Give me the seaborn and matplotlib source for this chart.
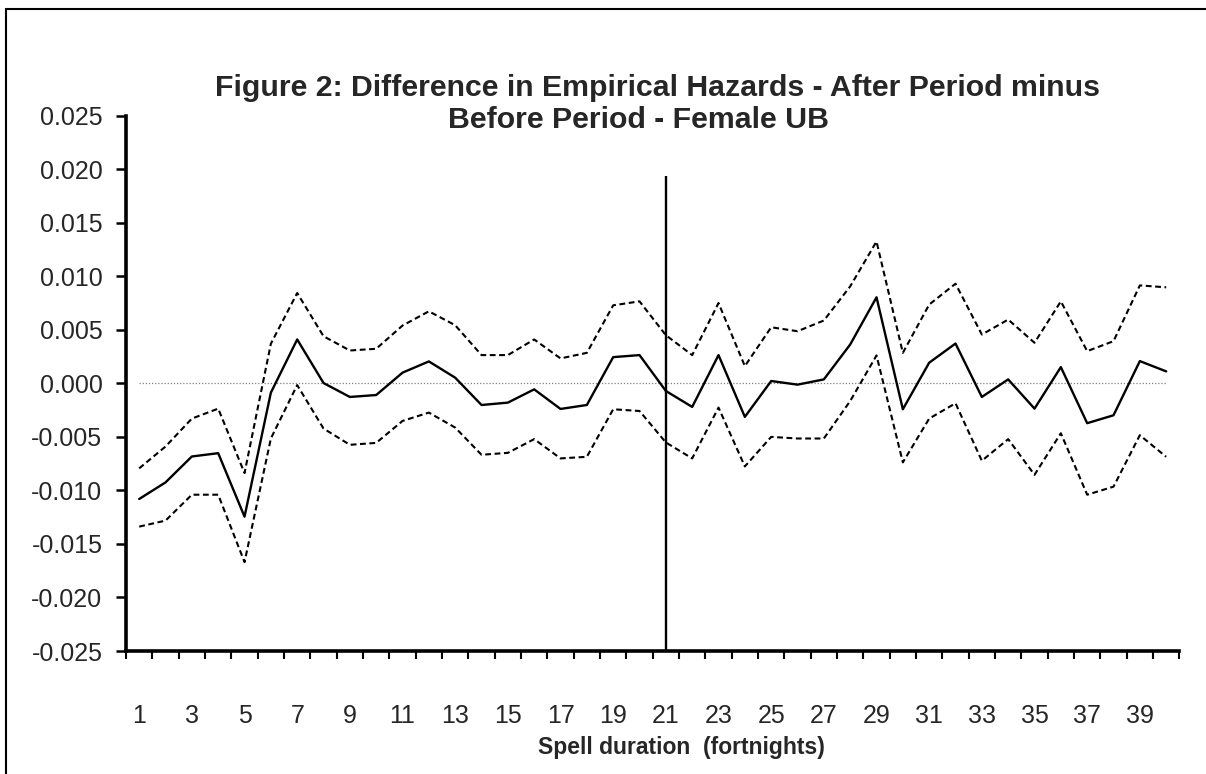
import numpy as np
import pandas as pd
import seaborn as sns
import matplotlib.pyplot as plt
from matplotlib.lines import Line2D

# spell duration in fortnights
weeks = list(range(1, 41))

diff = [-0.0108, -0.00925, -0.00683, -0.00652, -0.01245, -0.00087, 0.0041, 0.00003, -0.00127, -0.00109,
        0.0010, 0.00205, 0.00053, -0.00202, -0.0018, -0.00056, -0.00239, -0.00202, 0.00245, 0.00264,
        -0.00071, -0.0022, 0.00264, -0.00313, 0.00022, -0.00012, 0.00037, 0.00363, 0.00804, -0.00242,
        0.00193, 0.00372, -0.00127, 0.00037, -0.00236, 0.00152, -0.00372, -0.00298, 0.00208, 0.00112]

upper = [-0.00794, -0.0059, -0.00329, -0.00236, -0.00838, 0.0037, 0.00844, 0.0044, 0.00307, 0.00323,
         0.0054, 0.00673, 0.00543, 0.00264, 0.00264, 0.0041, 0.00233, 0.00285, 0.00729, 0.00766,
         0.0045, 0.00264, 0.0075, 0.00161, 0.00524, 0.00487, 0.00587, 0.00906, 0.01325, 0.00285,
         0.00736, 0.00931, 0.00456, 0.00596, 0.00379, 0.00766, 0.00301, 0.00394, 0.00915, 0.00897]

lower = [-0.01338, -0.01282, -0.0104, -0.0104, -0.0167, -0.00515, -0.00016, -0.00422, -0.00574, -0.00556,
         -0.00351, -0.00273, -0.00413, -0.00667, -0.00649, -0.00521, -0.00701, -0.00686, -0.00242, -0.00258,
         -0.00552, -0.00701, -0.00226, -0.00776, -0.005, -0.00515, -0.00515, -0.00165, 0.00261, -0.00738,
         -0.00329, -0.00186, -0.00723, -0.00521, -0.00854, -0.00466, -0.0104, -0.00965, -0.00484, -0.00686]

policy_week = 21
policy_top = 0.0194

df = pd.DataFrame({"week": weeks, "diff": diff, "upper": upper, "lower": lower})

sns.set_style("white")
plt.rcParams['font.family'] = ['Liberation Sans', 'DejaVu Sans']

fig = plt.figure(figsize=(12.06, 7.74), dpi=100)
ax = fig.add_axes([0.1045, 0.1589, 0.8734, 0.6916])

dash = (0, (2.8, 1.7))
sns.lineplot(x="week", y="upper", data=df, color="black", lw=1.5, ax=ax)
sns.lineplot(x="week", y="lower", data=df, color="black", lw=1.5, ax=ax)
sns.lineplot(x="week", y="diff", data=df, color="black", lw=1.7, ax=ax)
ax.lines[0].set_linestyle(dash)
ax.lines[1].set_linestyle(dash)

# zero reference and the policy change line
ax.plot([weeks[0], weeks[-1]], [0, 0], color="#808080", lw=0.9, ls=(0, (1, 1.5)), zorder=1)
ax.vlines(policy_week, -0.025, policy_top, color="black", lw=1.7)

ax.set_xlim(0.5, 40.5)
ax.set_ylim(-0.025, 0.025)
ax.set_yticks(np.arange(-0.025, 0.0251, 0.005))
ax.set_yticklabels(["{:.3f}".format(v) for v in np.arange(-0.025, 0.0251, 0.005)], fontsize=18)
ax.set_xticks(weeks[::2])
ax.set_xticklabels([str(w) for w in weeks[::2]], fontsize=18)
ax.set_xticks(np.arange(0.5, 40.6, 1), minor=True)
ax.tick_params(axis="x", which="major", length=0, pad=38)
ax.tick_params(axis="x", which="minor", length=6, width=1.5, direction="out", color="black", bottom=True)
ax.tick_params(axis="y", length=7, width=1.8, direction="out", color="black", left=True, pad=10)

ax.set_xlabel("Spell duration  (fortnights)", fontsize=16.5, fontweight="bold")
ax.xaxis.set_label_coords(0.527, -0.158)
ax.set_ylabel("")

sns.despine(ax=ax)
for s in ["left", "bottom"]:
    ax.spines[s].set_linewidth(2.6)
    ax.spines[s].set_color("black")

fig.text(0.545, 1 - 88 / 774, "Figure 2: Difference in Empirical Hazards - After Period minus",
         ha="center", va="center", fontsize=21.8, fontweight="bold")
fig.text(639 / 1206, 1 - 120 / 774, "Before Period - Female UB",
         ha="center", va="center", fontsize=21.8, fontweight="bold")

# chart frame
fig.add_artist(Line2D([6 / 1206, 6 / 1206], [0, 1 - 9 / 774], color="black", lw=1.5))
fig.add_artist(Line2D([6 / 1206, 1], [1 - 9 / 774, 1 - 9 / 774], color="black", lw=1.5))

plt.savefig("out.png", dpi=100)
